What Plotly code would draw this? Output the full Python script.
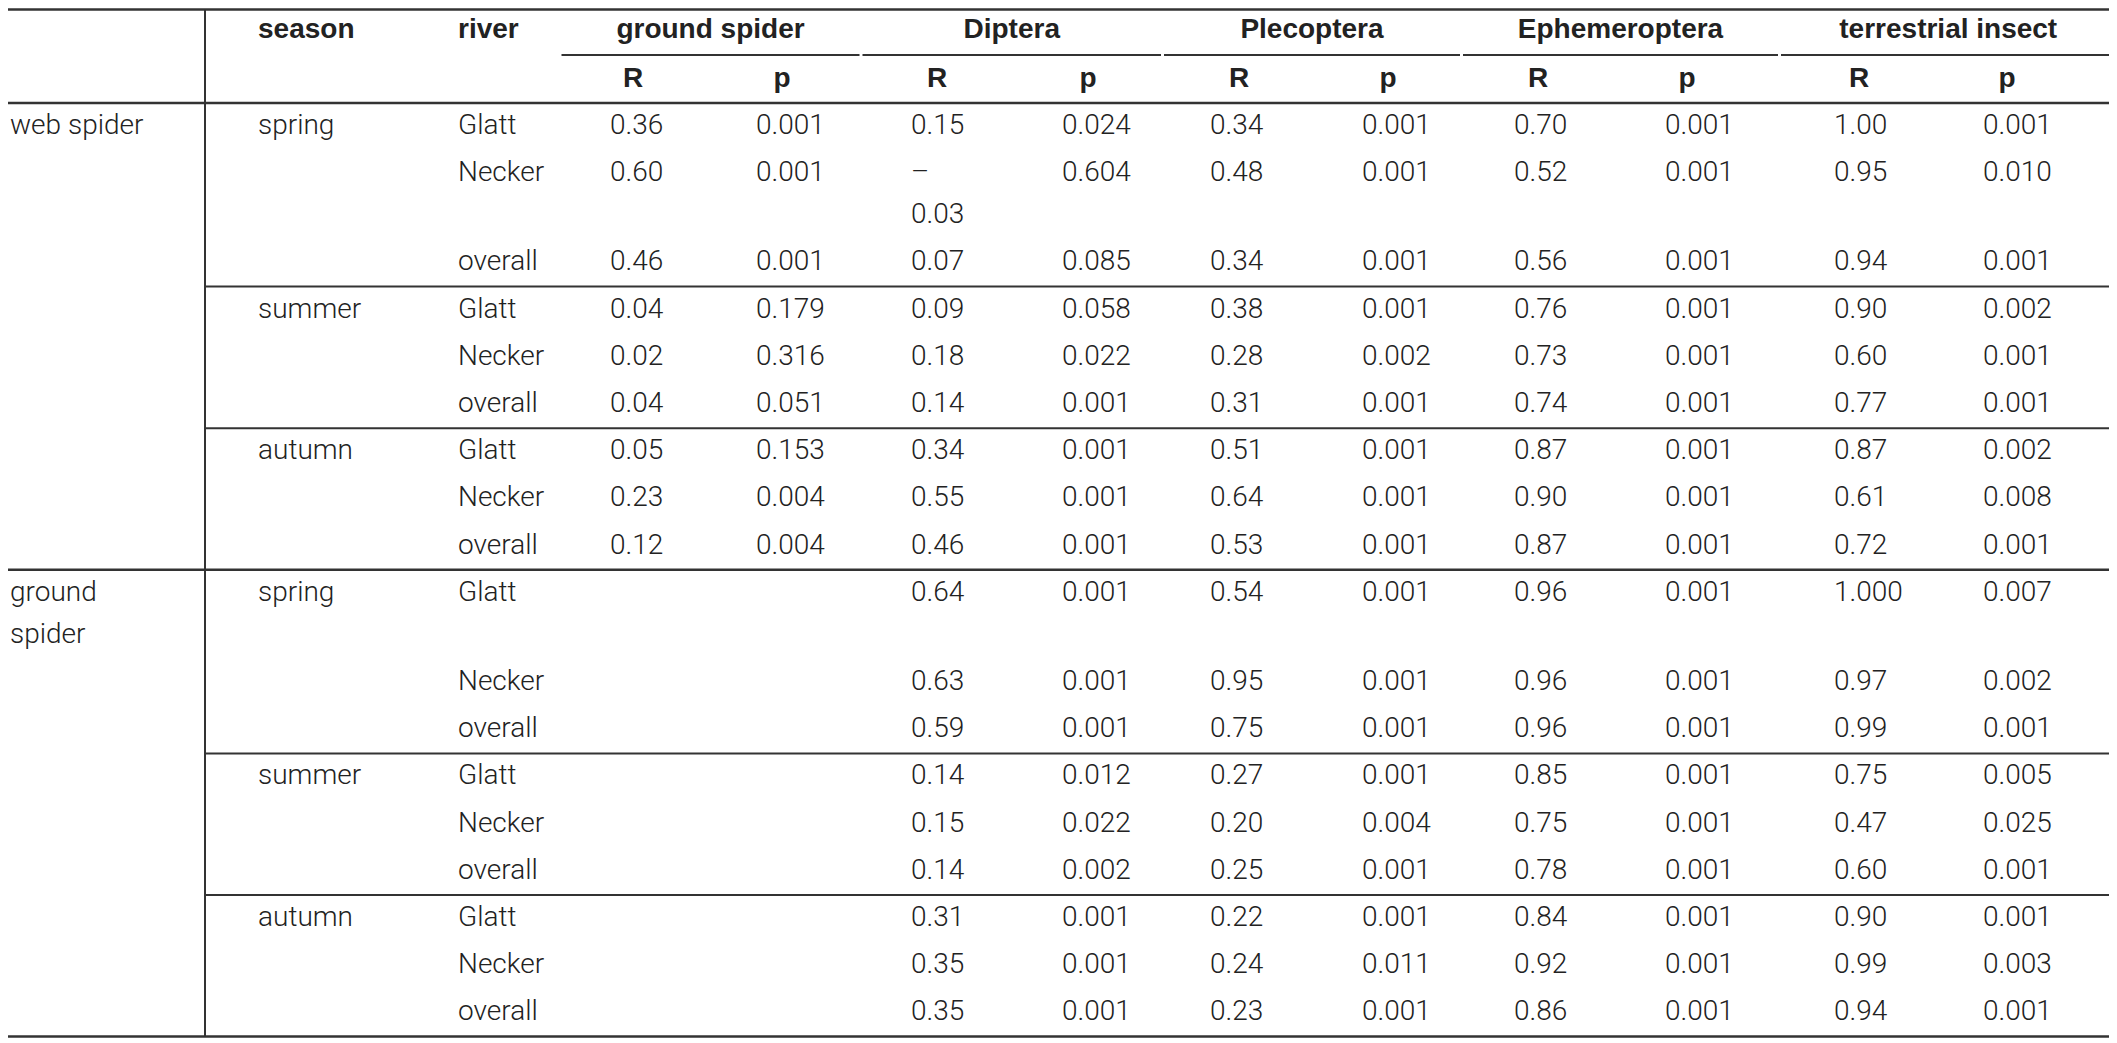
import plotly.graph_objects as go

# ---------------- data ----------------
main_groups = ["web spider", "ground spider"]
seasons = ["spring", "summer", "autumn"]
rivers = ["Glatt", "Necker", "overall"]
col_heads = ["", "season", "river"]
taxa = ["ground spider", "Diptera", "Plecoptera", "Ephemeroptera", "terrestrial insect"]
stat_labels = ["R", "p"]

# rows: web spider (spring G/N/o, summer G/N/o, autumn G/N/o), ground spider (same)
ground_spider_R = ["0.36", "0.60", "0.46", "0.04", "0.02", "0.04", "0.05", "0.23", "0.12",
                   "", "", "", "", "", "", "", "", ""]
ground_spider_p = ["0.001", "0.001", "0.001", "0.179", "0.316", "0.051", "0.153", "0.004", "0.004",
                   "", "", "", "", "", "", "", "", ""]
diptera_R = ["0.15", "–0.03", "0.07", "0.09", "0.18", "0.14", "0.34", "0.55", "0.46",
             "0.64", "0.63", "0.59", "0.14", "0.15", "0.14", "0.31", "0.35", "0.35"]
diptera_p = ["0.024", "0.604", "0.085", "0.058", "0.022", "0.001", "0.001", "0.001", "0.001",
             "0.001", "0.001", "0.001", "0.012", "0.022", "0.002", "0.001", "0.001", "0.001"]
plecoptera_R = ["0.34", "0.48", "0.34", "0.38", "0.28", "0.31", "0.51", "0.64", "0.53",
                "0.54", "0.95", "0.75", "0.27", "0.20", "0.25", "0.22", "0.24", "0.23"]
plecoptera_p = ["0.001", "0.001", "0.001", "0.001", "0.002", "0.001", "0.001", "0.001", "0.001",
                "0.001", "0.001", "0.001", "0.001", "0.004", "0.001", "0.001", "0.011", "0.001"]
ephemeroptera_R = ["0.70", "0.52", "0.56", "0.76", "0.73", "0.74", "0.87", "0.90", "0.87",
                   "0.96", "0.96", "0.96", "0.85", "0.75", "0.78", "0.84", "0.92", "0.86"]
ephemeroptera_p = ["0.001", "0.001", "0.001", "0.001", "0.001", "0.001", "0.001", "0.001", "0.001",
                   "0.001", "0.001", "0.001", "0.001", "0.001", "0.001", "0.001", "0.001", "0.001"]
terrestrial_R = ["1.00", "0.95", "0.94", "0.90", "0.60", "0.77", "0.87", "0.61", "0.72",
                 "1.000", "0.97", "0.99", "0.75", "0.47", "0.60", "0.90", "0.99", "0.94"]
terrestrial_p = ["0.001", "0.010", "0.001", "0.002", "0.001", "0.001", "0.002", "0.008", "0.001",
                 "0.007", "0.002", "0.001", "0.005", "0.025", "0.001", "0.001", "0.003", "0.001"]

value_columns = [ground_spider_R, ground_spider_p, diptera_R, diptera_p,
                 plecoptera_R, plecoptera_p, ephemeroptera_R, ephemeroptera_p,
                 terrestrial_R, terrestrial_p]

# ---------------- layout constants ----------------
W, H = 2117, 1043
PAGE_OFFSET = 8          # default page margin in front of the figure
BODY_FONT = "Roboto, Liberation Sans, Arial, sans-serif"
HEAD_FONT = "Liberation Sans, Arial, sans-serif"
FS = 28
TXT_COLOR = "#222222"
HEAD_COLOR = "#222222"
LINE_COLOR = "#333333"

X_MAIN, X_SEASON, X_RIVER = 10, 258, 458
VLINE_X = 205
GROUP_EDGES = [560, 861, 1162.5, 1461.5, 1779.5, 2117]
VALUE_X = [610, 756, 911, 1062, 1210, 1362, 1514, 1665, 1834, 1983]
STAT_X = [633, 782, 937, 1088, 1239, 1388, 1538, 1687, 1859, 2007]

TOP_LINE_Y = 9.5
HEAD1_Y = 31
UNDERLINE_Y = 55
HEAD2_Y = 80
HEADER_LINE_Y = 103
ROW_H = 47.2
EXTRA_LINE = 42
TEXT_OFF = 24


def wrap(s):
    """Split a cell's text into rendered lines (narrow columns wrap)."""
    if s.startswith("–"):
        return ["–", s[1:]]
    if len(s) > 11 and " " in s:
        return s.split(" ", 1)
    return [s]


# build row structure
rows = []
for gi, mg in enumerate(main_groups):
    for si, se in enumerate(seasons):
        for ri, rv in enumerate(rivers):
            k = gi * 9 + si * 3 + ri
            first_in_group = (si == 0 and ri == 0)
            cells = {
                "main": wrap(mg) if first_in_group else [],
                "season": [se] if ri == 0 else [],
                "river": [rv],
                "vals": [wrap(c[k]) for c in value_columns],
            }
            nlines = max([len(cells["main"]), 1] + [len(v) for v in cells["vals"]])
            rows.append((gi, si, ri, cells, nlines))

# compute row tops
tops = []
y = HEADER_LINE_Y
for r in rows:
    tops.append(y)
    y += ROW_H + (r[4] - 1) * EXTRA_LINE
BOTTOM_Y = y

fig = go.Figure()


def add_text(xs, ys, texts, pos, bold=False, color=TXT_COLOR):
    fig.add_trace(go.Scatter(
        x=xs, y=ys, text=texts, mode="text", textposition=pos,
        textfont=dict(family=HEAD_FONT if bold else BODY_FONT, size=FS, color=color,
                      weight=700 if bold else 300),
        hoverinfo="skip", showlegend=False, cliponaxis=False))


# header texts
add_text([X_SEASON, X_RIVER], [HEAD1_Y, HEAD1_Y], col_heads[1:], "middle right", True, HEAD_COLOR)
gcenters = [(GROUP_EDGES[i] + GROUP_EDGES[i + 1]) / 2 for i in range(len(taxa))]
add_text(gcenters, [HEAD1_Y] * len(taxa), taxa, "middle center", True, HEAD_COLOR)
add_text(STAT_X, [HEAD2_Y] * len(STAT_X), stat_labels * len(taxa), "middle center", True, HEAD_COLOR)

# body texts
lx, ly, lt = [], [], []
vx, vy, vt = [], [], []
for (gi, si, ri, cells, nl), top in zip(rows, tops):
    base = top + TEXT_OFF
    for x0, key in [(X_MAIN, "main"), (X_SEASON, "season"), (X_RIVER, "river")]:
        for li, t in enumerate(cells[key]):
            lx.append(x0); ly.append(base + li * EXTRA_LINE); lt.append(t)
    for x0, lines in zip(VALUE_X, cells["vals"]):
        for li, t in enumerate(lines):
            if t:
                vx.append(x0); vy.append(base + li * EXTRA_LINE); vt.append(t)
add_text(lx, ly, lt, "middle right")
add_text(vx, vy, vt, "middle right")

# rules
shapes = []


def hline(x0, x1, yy, w=2):
    shapes.append(dict(type="line", xref="x", yref="y", x0=x0, x1=x1, y0=yy, y1=yy,
                       line=dict(color=LINE_COLOR, width=w)))


hline(0, W, TOP_LINE_Y, 2.5)
for i in range(len(taxa)):
    hline(GROUP_EDGES[i] + 1.5, GROUP_EDGES[i + 1] - 1.5, UNDERLINE_Y, 2)
hline(0, W, HEADER_LINE_Y, 2.5)
for idx, ((gi, si, ri, cells, nl), top) in enumerate(zip(rows, tops)):
    if idx == 0:
        continue
    if si == 0 and ri == 0:
        hline(0, W, top, 2.5)
    elif ri == 0:
        hline(VLINE_X, W, top, 2)
hline(0, W, BOTTOM_Y, 2.5)
shapes.append(dict(type="line", xref="x", yref="y", x0=VLINE_X, x1=VLINE_X,
                   y0=TOP_LINE_Y, y1=BOTTOM_Y, line=dict(color=LINE_COLOR, width=2)))

fig.update_layout(
    width=W, height=H, margin=dict(l=0, r=0, t=0, b=0),
    paper_bgcolor="white", plot_bgcolor="white",
    xaxis=dict(range=[PAGE_OFFSET, W + PAGE_OFFSET], visible=False, fixedrange=True),
    yaxis=dict(range=[H + PAGE_OFFSET, PAGE_OFFSET], visible=False, fixedrange=True),
    shapes=shapes, hovermode=False, showlegend=False,
)

fig.write_html("out.html")
